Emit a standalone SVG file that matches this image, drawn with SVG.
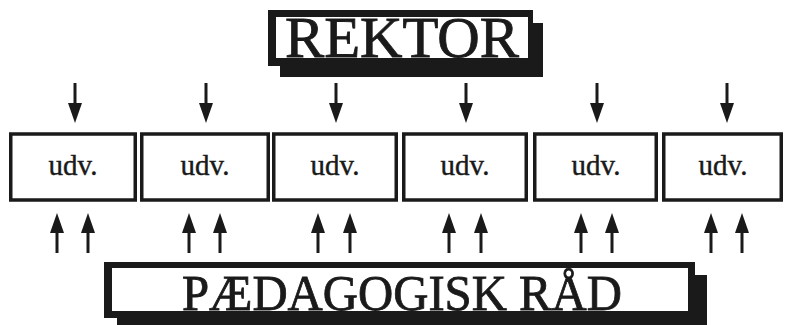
<svg xmlns="http://www.w3.org/2000/svg" width="785" height="325" viewBox="0 0 785 325">
<style>
  .box { fill: #ffffff; stroke: #1a1a1a; stroke-width: 3.5; }
  .lbl { font-family: "Liberation Serif", "Times New Roman", serif; font-size: 29px; fill: #1a1a1a; stroke: #1a1a1a; stroke-width: 0.4; text-anchor: middle; }
  .title { font-family: "Liberation Serif", "Times New Roman", serif; fill: #1a1a1a; stroke: #1a1a1a; stroke-width: 0.8; }
  .dark { fill: #1a1a1a; }
  .arrow { stroke: #1a1a1a; stroke-width: 3; fill: none; marker-end: url(#head); }
</style>
<defs>
  <marker id="head" viewBox="0 0 20 14" refX="2" refY="7" markerWidth="20" markerHeight="14" markerUnits="userSpaceOnUse" orient="auto">
    <path d="M0,0 L20,7 L0,14 z" fill="#1a1a1a"/>
  </marker>
</defs>
<rect width="785" height="325" fill="#ffffff"/>

<g id="rektor">
  <rect class="dark" x="280" y="23" width="263" height="54"/>
  <rect class="dark" x="268" y="10" width="265" height="56"/>
  <rect x="276" y="17" width="252" height="41" fill="#ffffff"/>
  <text class="title" x="402" y="57" font-size="56" text-anchor="middle" textLength="234" lengthAdjust="spacingAndGlyphs">REKTOR</text>
</g>

<g id="paedagogisk">
  <rect class="dark" x="117" y="275" width="590" height="50"/>
  <rect class="dark" x="104" y="262" width="591" height="56"/>
  <rect x="112" y="268" width="576" height="43" fill="#ffffff"/>
  <text class="title" x="402" y="310" font-size="50" text-anchor="middle" textLength="440" lengthAdjust="spacingAndGlyphs">PÆDAGOGISK RÅD</text>
</g>

<g id="udv1"><rect class="box" x="10.75" y="134" width="124.5" height="66"/><text class="lbl" x="73" y="175">udv.</text></g>
<g id="udv2"><rect class="box" x="141.75" y="134" width="126.5" height="66"/><text class="lbl" x="205" y="175">udv.</text></g>
<g id="udv3"><rect class="box" x="273.75" y="134" width="122.5" height="66"/><text class="lbl" x="335" y="175">udv.</text></g>
<g id="udv4"><rect class="box" x="403.75" y="134" width="122.5" height="66"/><text class="lbl" x="465" y="175">udv.</text></g>
<g id="udv5"><rect class="box" x="534.75" y="134" width="121.5" height="66"/><text class="lbl" x="596" y="175">udv.</text></g>
<g id="udv6"><rect class="box" x="663.75" y="134" width="117.5" height="66"/><text class="lbl" x="723" y="175">udv.</text></g>

<g id="connectors">
  <line class="arrow" x1="75" y1="83" x2="75" y2="105"/>
  <line class="arrow" x1="206" y1="83" x2="206" y2="105"/>
  <line class="arrow" x1="336" y1="83" x2="336" y2="105"/>
  <line class="arrow" x1="466" y1="83" x2="466" y2="105"/>
  <line class="arrow" x1="597" y1="83" x2="597" y2="105"/>
  <line class="arrow" x1="727" y1="83" x2="727" y2="105"/>

  <line class="arrow" x1="57" y1="253" x2="57" y2="231"/>
  <line class="arrow" x1="88" y1="253" x2="88" y2="231"/>
  <line class="arrow" x1="189" y1="253" x2="189" y2="231"/>
  <line class="arrow" x1="220" y1="253" x2="220" y2="231"/>
  <line class="arrow" x1="318" y1="253" x2="318" y2="231"/>
  <line class="arrow" x1="350" y1="253" x2="350" y2="231"/>
  <line class="arrow" x1="449" y1="253" x2="449" y2="231"/>
  <line class="arrow" x1="481" y1="253" x2="481" y2="231"/>
  <line class="arrow" x1="581" y1="253" x2="581" y2="231"/>
  <line class="arrow" x1="612" y1="253" x2="612" y2="231"/>
  <line class="arrow" x1="711" y1="253" x2="711" y2="231"/>
  <line class="arrow" x1="742" y1="253" x2="742" y2="231"/>
</g>
</svg>
